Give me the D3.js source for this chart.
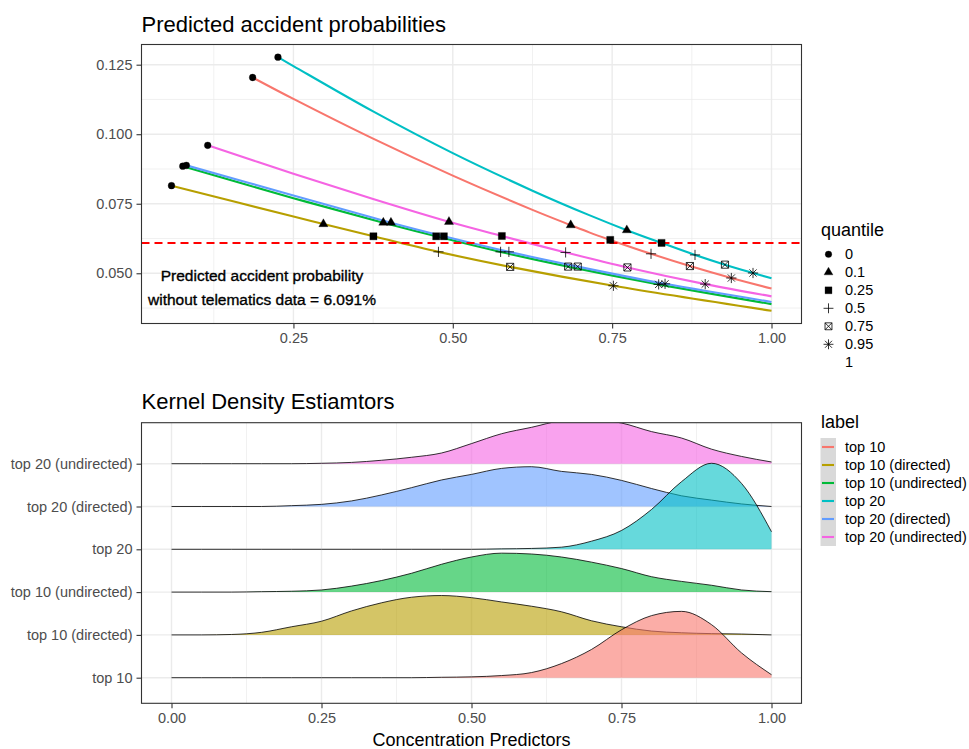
<!DOCTYPE html>
<html>
<head>
<meta charset="utf-8">
<script src="https://cdn.jsdelivr.net/npm/d3@7"></script>
<style>
  body { margin: 0; background: #fff; }
  svg text { font-family: "Liberation Sans", Arial, Helvetica, sans-serif; }
</style>
</head>
<body>
<div id="viz-container"></div>
<script>
// ---- data ----
const labels = ["top 10", "top 10 (directed)", "top 10 (undirected)", "top 20", "top 20 (directed)", "top 20 (undirected)"];
const labelColors = ["#F8766D", "#B79F00", "#00BA38", "#00BFC4", "#619CFF", "#F564E3"];
const quantiles = ["0", "0.1", "0.25", "0.5", "0.75", "0.95", "1"];
const noTelematics = 0.06091;

// concentration predictor at each quantile, one row per label
const quantileX = [
  [0.186, 0.685, 0.747, 0.811, 0.872, 0.937, 1.00],
  [0.0587, 0.297, 0.3755, 0.4775, 0.590, 0.752, 1.00],
  [0.0764, 0.391, 0.474, 0.575, 0.681, 0.823, 1.00],
  [0.2257, 0.773, 0.8275, 0.880, 0.927, 0.971, 1.00],
  [0.082, 0.403, 0.486, 0.588, 0.696, 0.833, 1.00],
  [0.1155, 0.494, 0.577, 0.677, 0.774, 0.896, 1.00]
];
// predicted accident probability at each quantile
const quantileY = [
  [0.1204, 0.0673, 0.0620, 0.0570, 0.0526, 0.0483, 0.0445],
  [0.0815, 0.0677, 0.0633, 0.0577, 0.0523, 0.0455, 0.0365],
  [0.0885, 0.0682, 0.0633, 0.0577, 0.0524, 0.0460, 0.0389],
  [0.1277, 0.0655, 0.0609, 0.0566, 0.0531, 0.0501, 0.0482],
  [0.0888, 0.0682, 0.0633, 0.0577, 0.0524, 0.0462, 0.0397],
  [0.0960, 0.0685, 0.0634, 0.0575, 0.0521, 0.0461, 0.0417]
];
// extra readings of the curves between quantile points
const curveX = [0.25, 0.375, 0.5, 0.625, 0.714];
const curveY = [
  [0.1127, 0.0984, 0.0851, 0.0728, 0.0647],
  [0.0704, null, null, null, null],
  [0.0770, null, null, null, null],
  [0.1245, 0.1082, 0.0932, 0.0797, 0.0709],
  [0.0780, null, null, null, null],
  [0.0858, 0.0767, null, null, null]
];

// kernel density estimates (height in rows)
const kdeX = [0, 0.05, 0.1, 0.15, 0.2, 0.25, 0.3, 0.35, 0.4, 0.45, 0.5, 0.55, 0.6, 0.65, 0.7, 0.75, 0.8, 0.85, 0.9, 0.95, 1.0];
const kdeTop10 =      [0, 0, 0, 0, 0, 0, 0, 0, 0, 0.01, 0.02, 0.05, 0.12, 0.33, 0.66, 1.12, 1.45, 1.55, 1.24, 0.58, 0.07];
const kdeTop10Dir =   [0, 0, 0.01, 0.06, 0.19, 0.32, 0.56, 0.75, 0.88, 0.92, 0.87, 0.77, 0.67, 0.54, 0.33, 0.19, 0.09, 0.05, 0.03, 0.02, 0];
const kdeTop10Und =   [0, 0, 0, 0.01, 0.02, 0.05, 0.14, 0.27, 0.44, 0.65, 0.82, 0.91, 0.89, 0.82, 0.70, 0.55, 0.36, 0.25, 0.16, 0.05, 0.01];
const kdeTop20 =      [0, 0, 0, 0, 0, 0, 0, 0, 0, 0, 0, 0.01, 0.02, 0.05, 0.19, 0.44, 0.93, 1.58, 2.01, 1.54, 0.41];
const kdeTop20Dir =   [0, 0, 0, 0, 0.02, 0.05, 0.13, 0.27, 0.44, 0.62, 0.75, 0.89, 0.93, 0.82, 0.75, 0.61, 0.42, 0.25, 0.15, 0.06, 0];
const kdeTop20Und =   [0, 0, 0, 0, 0, 0.01, 0.03, 0.08, 0.15, 0.25, 0.47, 0.70, 0.85, 1.00, 1.03, 0.95, 0.75, 0.60, 0.34, 0.17, 0.04];
const kdeAll = [kdeTop10, kdeTop10Dir, kdeTop10Und, kdeTop20, kdeTop20Dir, kdeTop20Und];

// ---- setup ----
const W = 969, H = 749;
const left = 141.5, right = 801.5;
const tickCol = "#333333", labCol = "#4D4D4D", gridCol = "#EBEBEB";

let viz = d3.select("#viz-container")
  .append("svg")
    .attr("width", W)
    .attr("height", H)
;

function styleAxis(g){
  g.select(".domain").remove();
  g.selectAll(".tick line").attr("stroke", tickCol).attr("stroke-width", 1.1);
  g.selectAll(".tick text").attr("fill", labCol).attr("font-size", 14.5);
}

// marker shapes like R pch 16,17,15,3,7,8
function shapePath(q, r){
  if (q == "0"){
    return "M" + r + ",0A" + r + "," + r + " 0 1 1 " + (-r) + ",0A" + r + "," + r + " 0 1 1 " + r + ",0Z";
  }else if (q == "0.1"){
    let t = 1.555 * r, xc = 1.347 * r, yc = 0.778 * r;
    return "M0," + (-t) + "L" + xc + "," + yc + "L" + (-xc) + "," + yc + "Z";
  }else if (q == "0.25"){
    let s = r * 1.05;
    return "M" + (-s) + "," + (-s) + "H" + s + "V" + s + "H" + (-s) + "Z";
  }else if (q == "0.5"){
    let a = r * 1.5;
    return "M" + (-a) + ",0H" + a + "M0," + (-a) + "V" + a;
  }else if (q == "0.75"){
    let s = r * 1.05;
    return "M" + (-s) + "," + (-s) + "H" + s + "V" + s + "H" + (-s) + "Z" +
      "M" + (-s) + "," + (-s) + "L" + s + "," + s + "M" + s + "," + (-s) + "L" + (-s) + "," + s;
  }else if (q == "0.95"){
    let a = r * 1.5, d = r * 1.06;
    return "M" + (-a) + ",0H" + a + "M0," + (-a) + "V" + a +
      "M" + (-d) + "," + (-d) + "L" + d + "," + d + "M" + d + "," + (-d) + "L" + (-d) + "," + d;
  }
  return "";
}
function shapeFilled(q){
  return q == "0" || q == "0.1" || q == "0.25";
}

// ================= top panel =================
const topY0 = 44.5, topY1 = 323.5;
let allX = [], allY = [];
labels.forEach(function(l, i){
  quantileX[i].forEach(function(v){ allX.push(v); });
  quantileY[i].forEach(function(v){ allY.push(v); });
});
let xe = d3.extent(allX), ye = d3.extent(allY);
let xpad = (xe[1] - xe[0]) * 0.05, ypad = (ye[1] - ye[0]) * 0.05;
let xTop = d3.scaleLinear().domain([xe[0] - xpad, xe[1] + xpad]).range([left, right]);
let yTop = d3.scaleLinear().domain([ye[0] - ypad, ye[1] + ypad]).range([topY1, topY0]);

let topPanel = viz.append("g").attr("class", "top-panel");

// grid
[0.0375, 0.0625, 0.0875, 0.1125].forEach(function(v){
  topPanel.append("line").attr("x1", left).attr("x2", right).attr("y1", yTop(v)).attr("y2", yTop(v))
    .attr("stroke", gridCol).attr("stroke-width", 0.7);
});
[0.125, 0.375, 0.625, 0.875].forEach(function(v){
  topPanel.append("line").attr("x1", xTop(v)).attr("x2", xTop(v)).attr("y1", topY0).attr("y2", topY1)
    .attr("stroke", gridCol).attr("stroke-width", 0.7);
});
[0.05, 0.075, 0.1, 0.125].forEach(function(v){
  topPanel.append("line").attr("x1", left).attr("x2", right).attr("y1", yTop(v)).attr("y2", yTop(v))
    .attr("stroke", gridCol).attr("stroke-width", 1.4);
});
[0.25, 0.5, 0.75, 1.0].forEach(function(v){
  topPanel.append("line").attr("x1", xTop(v)).attr("x2", xTop(v)).attr("y1", topY0).attr("y2", topY1)
    .attr("stroke", gridCol).attr("stroke-width", 1.4);
});

// curves
let curveLine = d3.line()
  .x(function(d){ return xTop(d[0]); })
  .y(function(d){ return yTop(d[1]); })
  .curve(d3.curveCatmullRom.alpha(0.5));

labels.forEach(function(l, i){
  let pts = [];
  quantileX[i].forEach(function(v, j){ pts.push([v, quantileY[i][j]]); });
  curveX.forEach(function(v, j){
    if (curveY[i][j] != null && v > quantileX[i][0]) pts.push([v, curveY[i][j]]);
  });
  pts.sort(function(a, b){ return a[0] - b[0]; });
  topPanel.append("path")
    .attr("d", curveLine(pts))
    .attr("fill", "none")
    .attr("stroke", labelColors[i])
    .attr("stroke-width", 2.1);
});

// no-telematics baseline
topPanel.append("line")
  .attr("x1", left).attr("x2", right)
  .attr("y1", yTop(noTelematics)).attr("y2", yTop(noTelematics))
  .attr("stroke", "#FF0000")
  .attr("stroke-width", 2)
  .attr("stroke-dasharray", "8,5");

// points (quantile "1" has no marker)
labels.forEach(function(l, i){
  quantiles.forEach(function(q, j){
    if (q == "1") return;
    topPanel.append("path")
      .attr("d", shapePath(q, 3.4))
      .attr("transform", "translate(" + xTop(quantileX[i][j]) + "," + yTop(quantileY[i][j]) + ")")
      .attr("fill", shapeFilled(q) ? "#000" : "none")
      .attr("stroke", "#000")
      .attr("stroke-width", shapeFilled(q) ? 0.3 : 0.8);
  });
});

// annotation
let note = topPanel.append("text")
  .attr("x", 262)
  .attr("text-anchor", "middle")
  .attr("font-size", 15.5)
  .attr("fill", "#000")
  .attr("stroke", "#000")
  .attr("stroke-width", 0.35);
note.append("tspan").attr("x", 262).attr("y", 280.5).text("Predicted accident probability");
note.append("tspan").attr("x", 262).attr("y", 305).text("without telematics data = " + (noTelematics * 100).toFixed(3) + "%");

// border + axes
topPanel.append("rect")
  .attr("x", left).attr("y", topY0)
  .attr("width", right - left).attr("height", topY1 - topY0)
  .attr("fill", "none").attr("stroke", tickCol).attr("stroke-width", 1.1);

topPanel.append("g")
  .attr("transform", "translate(" + left + ",0)")
  .call(d3.axisLeft(yTop).tickValues([0.05, 0.075, 0.1, 0.125]).tickFormat(d3.format(".3f")).tickSize(5).tickPadding(4))
  .call(styleAxis);
topPanel.append("g")
  .attr("transform", "translate(0," + topY1 + ")")
  .call(d3.axisBottom(xTop).tickValues([0.25, 0.5, 0.75, 1.0]).tickFormat(d3.format(".2f")).tickSize(5).tickPadding(4))
  .call(styleAxis);

viz.append("text")
  .text("Predicted accident probabilities")
  .attr("x", left)
  .attr("y", 32)
  .attr("font-size", 22)
  .attr("fill", "#000");

// quantile legend
viz.append("text").text("quantile").attr("x", 821).attr("y", 236).attr("font-size", 18);
quantiles.forEach(function(q, j){
  let cy = 254.3 + j * 18;
  if (q != "1"){
    viz.append("path")
      .attr("d", shapePath(q, 3.3))
      .attr("transform", "translate(828.5," + cy + ")")
      .attr("fill", shapeFilled(q) ? "#000" : "none")
      .attr("stroke", "#000")
      .attr("stroke-width", shapeFilled(q) ? 0.3 : 0.8);
  }
  viz.append("text").text(q)
    .attr("x", 845).attr("y", cy)
    .attr("dy", "0.35em")
    .attr("font-size", 14.5);
});

// ================= bottom panel =================
const botY0 = 422.7, botY1 = 703.3;
let xBot = d3.scaleLinear().domain([-0.05, 1.05]).range([left, right]);
let yRow = d3.scalePoint().domain(labels).range([677.7, 463.7]);
let rowH = d3.scaleLinear().domain([0, 1]).range([0, yRow.step()]);

let botPanel = viz.append("g").attr("class", "bottom-panel");

[0.125, 0.375, 0.625, 0.875].forEach(function(v){
  botPanel.append("line").attr("x1", xBot(v)).attr("x2", xBot(v)).attr("y1", botY0).attr("y2", botY1)
    .attr("stroke", gridCol).attr("stroke-width", 0.7);
});
[0, 0.25, 0.5, 0.75, 1.0].forEach(function(v){
  botPanel.append("line").attr("x1", xBot(v)).attr("x2", xBot(v)).attr("y1", botY0).attr("y2", botY1)
    .attr("stroke", gridCol).attr("stroke-width", 1.4);
});
labels.forEach(function(l){
  botPanel.append("line").attr("x1", left).attr("x2", right).attr("y1", yRow(l)).attr("y2", yRow(l))
    .attr("stroke", gridCol).attr("stroke-width", 1.4);
});

viz.append("clipPath").attr("id", "botclip")
  .append("rect")
    .attr("x", left).attr("y", botY0)
    .attr("width", right - left).attr("height", botY1 - botY0);

let ridges = botPanel.append("g").attr("clip-path", "url(#botclip)");

// draw from the top row down, so lower rows sit on top
for (let i = labels.length - 1; i >= 0; i--){
  let base = yRow(labels[i]);
  let pts = kdeX.map(function(v, k){ return [v, kdeAll[i][k]]; });
  let area = d3.area()
    .x(function(d){ return xBot(d[0]); })
    .y0(base)
    .y1(function(d){ return base - rowH(d[1]); })
    .curve(d3.curveMonotoneX);
  let ridge = d3.line()
    .x(function(d){ return xBot(d[0]); })
    .y(function(d){ return base - rowH(d[1]); })
    .curve(d3.curveMonotoneX);
  ridges.append("path")
    .attr("d", area(pts))
    .attr("fill", labelColors[i])
    .attr("fill-opacity", 0.6);
  ridges.append("path")
    .attr("d", ridge(pts))
    .attr("fill", "none")
    .attr("stroke", "#000")
    .attr("stroke-width", 0.8);
}

botPanel.append("rect")
  .attr("x", left).attr("y", botY0)
  .attr("width", right - left).attr("height", botY1 - botY0)
  .attr("fill", "none").attr("stroke", tickCol).attr("stroke-width", 1.1);

botPanel.append("g")
  .attr("transform", "translate(" + left + ",0)")
  .call(d3.axisLeft(yRow).tickSize(5).tickPadding(4))
  .call(styleAxis);
botPanel.append("g")
  .attr("transform", "translate(0," + botY1 + ")")
  .call(d3.axisBottom(xBot).tickValues([0, 0.25, 0.5, 0.75, 1.0]).tickFormat(d3.format(".2f")).tickSize(5).tickPadding(4))
  .call(styleAxis);

viz.append("text")
  .text("Kernel Density Estiamtors")
  .attr("x", left)
  .attr("y", 409)
  .attr("font-size", 22);

viz.append("text")
  .text("Concentration Predictors")
  .attr("x", (left + right) / 2)
  .attr("y", 746)
  .attr("text-anchor", "middle")
  .attr("font-size", 18);

// label legend
viz.append("text").text("label").attr("x", 821).attr("y", 428).attr("font-size", 18);
viz.append("rect")
  .attr("x", 820.5).attr("y", 438)
  .attr("width", 15.5).attr("height", labels.length * 18)
  .attr("fill", "#D9D9D9");
labels.forEach(function(l, i){
  let cy = 447 + i * 18;
  viz.append("line")
    .attr("x1", 822).attr("x2", 834)
    .attr("y1", cy).attr("y2", cy)
    .attr("stroke", labelColors[i])
    .attr("stroke-width", 2.1);
  viz.append("text").text(l)
    .attr("x", 845).attr("y", cy)
    .attr("dy", "0.35em")
    .attr("font-size", 14.5);
});
</script>
</body>
</html>
